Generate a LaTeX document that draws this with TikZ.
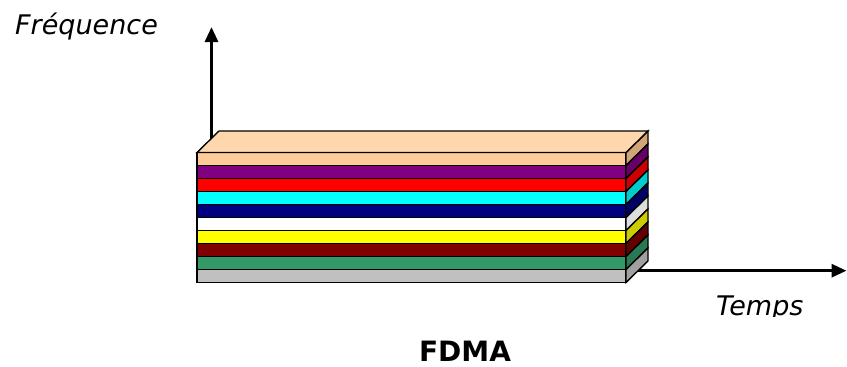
\documentclass[tikz,border=0pt]{standalone}
\usepackage{fontspec}
\setmainfont{DejaVu Sans}
\usetikzlibrary{arrows.meta}
\definecolor{cPeach}{HTML}{FFCC99}
\definecolor{cPurple}{HTML}{800080}
\definecolor{cRed}{HTML}{FF0000}
\definecolor{cCyan}{HTML}{00FFFF}
\definecolor{cNavy}{HTML}{000080}
\definecolor{cWhite}{HTML}{FFFFFF}
\definecolor{cYellow}{HTML}{FFFF00}
\definecolor{cMaroon}{HTML}{800000}
\definecolor{cGreen}{HTML}{339966}
\definecolor{cGrey}{HTML}{C0C0C0}
\definecolor{sPeach}{HTML}{D2A478}
\definecolor{sPurple}{HTML}{660066}
\definecolor{sRed}{HTML}{CC0000}
\definecolor{sCyan}{HTML}{00CCCC}
\definecolor{sNavy}{HTML}{000066}
\definecolor{sWhite}{HTML}{DDDDDD}
\definecolor{sYellow}{HTML}{CCCC00}
\definecolor{sMaroon}{HTML}{660000}
\definecolor{sGreen}{HTML}{297A52}
\definecolor{sGrey}{HTML}{A0A0A0}
\definecolor{tPeach}{HTML}{FFD7AC}
\tikzset{
  axis/.style={line width=3pt,-{Triangle[length=15pt,width=13pt]}},
  slab/.style={draw=black,line width=1.4pt,line join=miter},
  axlabel/.style={font=\fontsize{27}{30}\selectfont\itshape,inner sep=0pt},
  titlelabel/.style={font=\fontsize{28}{32}\selectfont\bfseries,inner sep=0pt}
}
\begin{document}
\begin{tikzpicture}[x=1pt,y=-1pt]
\useasboundingbox (0,0) rectangle (847,367);
% axes
\coordinate (O) at (211.5,270.7);
\coordinate (ytip) at (211.5,27);
\coordinate (xtip) at (846.5,270.7);
\draw[axis] (O) -- (ytip);
\draw[axis] (O) -- (xtip);
% box
\def\xl{197}\def\xr{626}\def\dx{22}\def\dy{21.5}\def\ytop{152.5}\def\h{13}
\foreach \c [count=\i from 0] in {Peach,Purple,Red,Cyan,Navy,White,Yellow,Maroon,Green,Grey}{
  \pgfmathsetmacro\ya{\ytop+\h*\i}
  \pgfmathsetmacro\yb{\ytop+\h*(\i+1)}
  \draw[slab,fill=c\c] (\xl,\ya) rectangle (\xr,\yb);
  \draw[slab,fill=s\c] (\xr,\ya) -- (\xr+\dx,\ya-\dy) -- (\xr+\dx,\yb-\dy) -- (\xr,\yb) -- cycle;
}
\draw[slab,fill=tPeach] (\xl,\ytop) -- (\xl+\dx,\ytop-\dy) -- (\xr+\dx,\ytop-\dy) -- (\xr,\ytop) -- cycle;
% labels
\node[axlabel,anchor=base west] (freq) at (15,34) {Fréquence};
\begin{scope}
\clip (700,280) rectangle (830,316.5);
\node[axlabel,anchor=base west] (temps) at (716,315) {Temps};
\end{scope}
\node[titlelabel,anchor=base] (fdma) at (465,361) {FDMA};
\end{tikzpicture}
\end{document}
